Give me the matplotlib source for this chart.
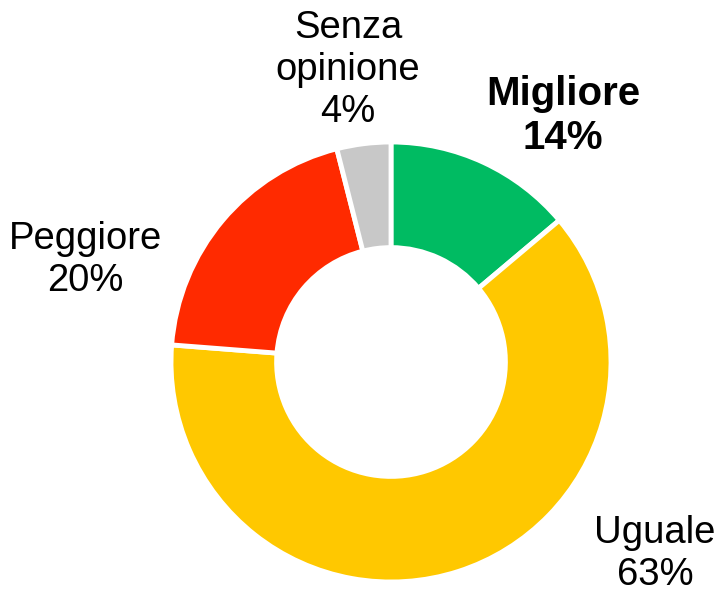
import matplotlib
matplotlib.use("Agg")
import matplotlib.pyplot as plt

plt.rcParams['font.family'] = ['Liberation Sans', 'DejaVu Sans']

# data
labels = ["Migliore", "Uguale", "Peggiore", "Senza\nopinione"]
values = [14, 63, 20, 4]
colors = ["#00BB62", "#FFC800", "#FF2A00", "#C8C8C8"]

# label placement (pixels in the 728x599 picture) and weight
label_px = [(563, 116), (655, 554), (85, 260), (348, 70)]
label_bold = [True, False, False, False]

W, H = 728, 599
cx, cy, R = 391, 362, 220

fig = plt.figure(figsize=(W / 100, H / 100), dpi=100)
ax = fig.add_axes([0, 0, 1, 1])

ax.pie(values, colors=colors, startangle=90, counterclock=False, radius=1,
       wedgeprops=dict(width=0.48, edgecolor='white', linewidth=3.5))

ax.set_xlim(-cx / R, (W - cx) / R)
ax.set_ylim(-(H - cy) / R, cy / R)
ax.set_aspect('equal')
ax.axis('off')

for lab, v, (px, py), b in zip(labels, values, label_px, label_bold):
    ax.text((px - cx) / R, (cy - py) / R, f"{lab}\n{v}%", ha='center', va='center',
            fontsize=29 if b else 27.5, fontweight='bold' if b else 'normal',
            linespacing=1.2)

fig.savefig("out.png", dpi=100)
